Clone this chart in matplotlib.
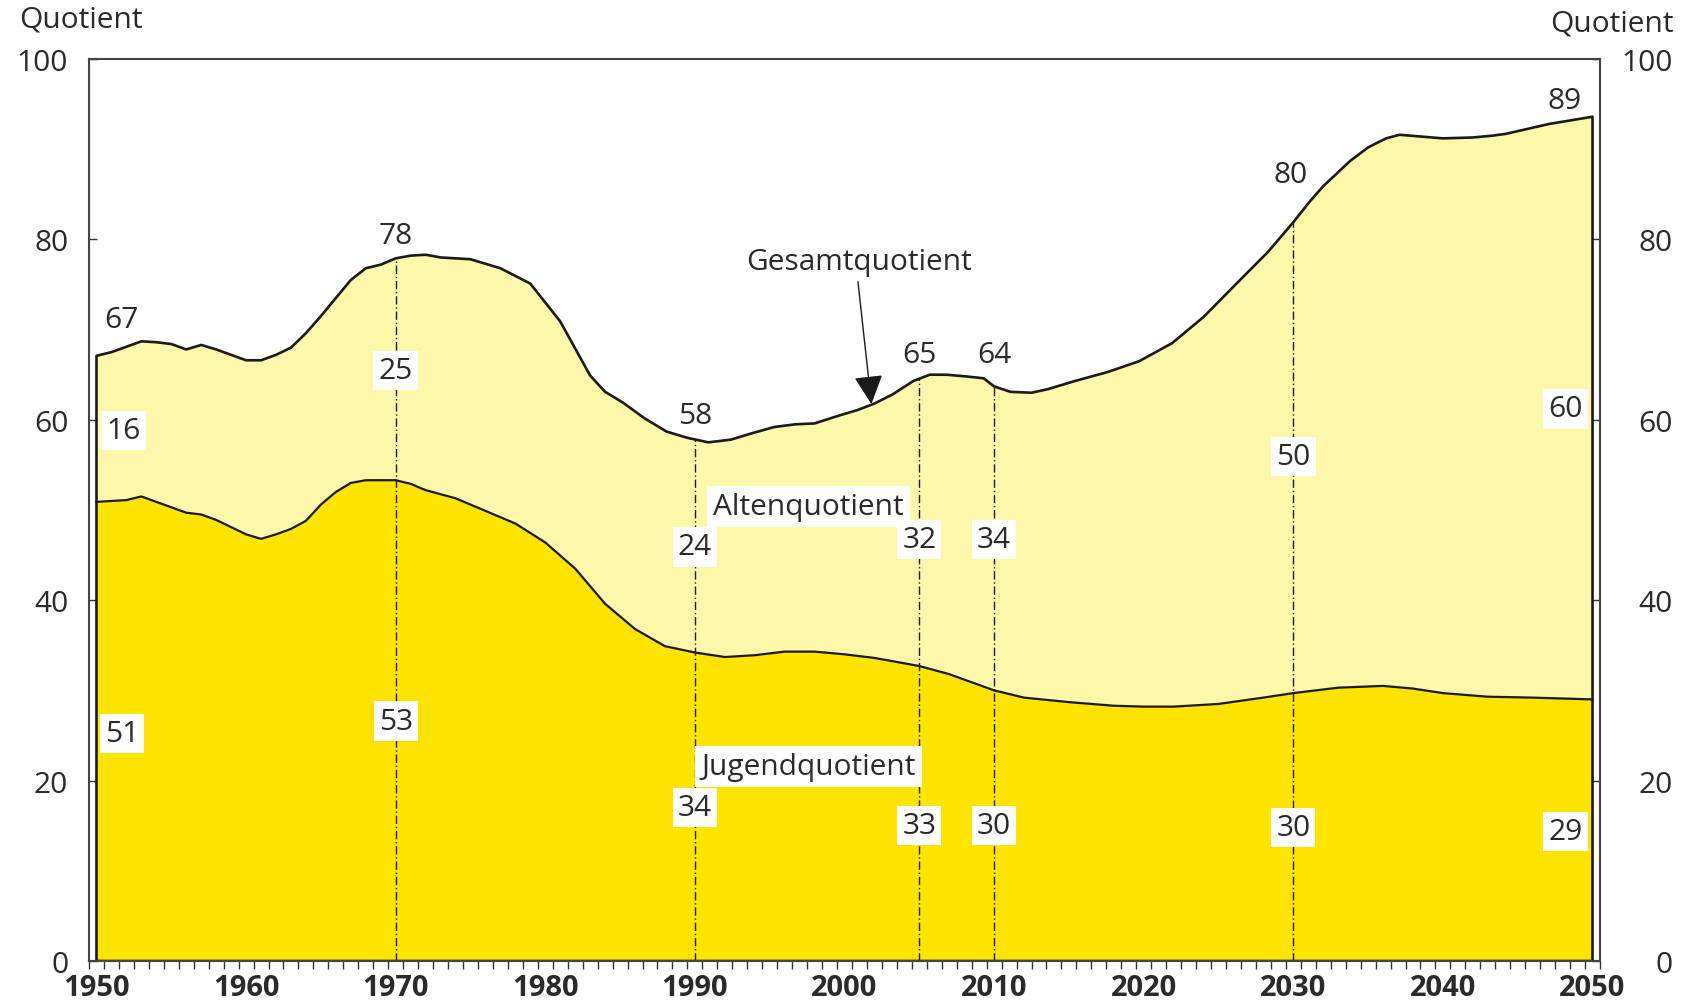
import numpy as np
import matplotlib
matplotlib.use("Agg")
import matplotlib.pyplot as plt
import matplotlib.transforms as mtrans

plt.rcParams['font.family'] = ['Open Sans', 'DejaVu Sans']

# ---- data ----
total_years = [1950, 1951, 1953, 1954, 1955, 1956, 1957, 1958, 1960, 1961, 1962, 1963,
               1964, 1965, 1966, 1967, 1968, 1969, 1970, 1971, 1972, 1973, 1975, 1977,
               1979, 1981, 1983, 1984, 1985.2, 1986.6, 1988.1, 1989.5, 1990.9, 1992.4,
               1993.8, 1995.3, 1996.7, 1998, 1999.5, 2000.9, 2002, 2003.2, 2004.6,
               2005.7, 2006.8, 2008.2, 2009.3, 2010, 2011.1, 2012.5, 2013.6, 2015.4,
               2017.6, 2019.7, 2021.9, 2024, 2026.2, 2028.3, 2030, 2031.1, 2032, 2033.8,
               2035, 2036.2, 2037.1, 2040, 2042, 2043.3, 2044.2, 2047.1, 2050]
total_values = [67.1, 67.5, 68.7, 68.6, 68.4, 67.8, 68.3, 67.8, 66.6, 66.6, 67.2, 68.0,
                69.6, 71.5, 73.5, 75.5, 76.8, 77.2, 77.9, 78.2, 78.3, 78.0, 77.8, 76.8,
                75.1, 70.9, 64.9, 63.1, 61.9, 60.2, 58.7, 58.0, 57.5, 57.8,
                58.5, 59.2, 59.5, 59.6, 60.4, 61.1, 61.8, 62.8, 64.3,
                65.0, 65.0, 64.8, 64.6, 63.7, 63.1, 63.0, 63.4, 64.3,
                65.3, 66.5, 68.5, 71.4, 75.1, 78.6, 81.9, 84.2, 85.9, 88.7,
                90.2, 91.2, 91.6, 91.2, 91.3, 91.5, 91.7, 92.8, 93.6]

youth_years = [1950, 1952, 1953, 1954, 1956, 1957, 1958, 1960, 1961, 1962, 1963, 1964,
               1965, 1966, 1967, 1968, 1970, 1971, 1972, 1974, 1976, 1978, 1980, 1982,
               1984, 1986, 1988, 1990, 1992, 1994, 1996, 1998, 2000, 2002, 2005, 2007,
               2010, 2012, 2015, 2018, 2020, 2022, 2025, 2028, 2030, 2033, 2036, 2038,
               2040, 2043, 2046, 2050]
youth_values = [50.9, 51.1, 51.5, 50.9, 49.7, 49.5, 48.9, 47.3, 46.8, 47.3, 47.9, 48.8,
                50.6, 52.0, 53.0, 53.3, 53.3, 52.9, 52.2, 51.3, 49.9, 48.5, 46.4, 43.5,
                39.6, 36.8, 34.9, 34.2, 33.7, 33.9, 34.3, 34.3, 34.0, 33.6, 32.7, 31.8,
                30.0, 29.2, 28.7, 28.3, 28.2, 28.2, 28.5, 29.2, 29.7, 30.3, 30.5, 30.2,
                29.7, 29.3, 29.2, 29.0]

marker_years = [1970, 1990, 2005, 2010, 2030]

# boxed labels: (text, year, value)
boxed_labels = [("16", 1951.8, 58.8), ("51", 1951.7, 25.2),
                ("25", 1970, 65.5), ("53", 1970, 26.6),
                ("24", 1990, 45.9), ("34", 1990, 17.0),
                ("32", 2005, 46.7), ("33", 2005, 15.0),
                ("34", 2010, 46.7), ("30", 2010, 15.0),
                ("50", 2030, 55.9), ("30", 2030, 14.8),
                ("60", 2048.2, 61.2), ("29", 2048.2, 14.4)]
# total labels above the curve
total_labels = [("67", 1951.7, 71.1), ("78", 1970, 80.4), ("58", 1990, 60.5),
                ("65", 2005, 67.2), ("64", 2010, 67.2), ("80", 2029.8, 87.2),
                ("89", 2048.1, 95.4)]

x_ticks = list(range(1950, 2051, 10))
y_ticks = [0, 20, 40, 60, 80, 100]

light_yellow = "#FFF7AA"
dark_yellow = "#FFE400"
text_color = "#2a2a2a"
line_color = "#1a1a1a"
fs = 21.5

fig = plt.figure(figsize=(16.86, 10.04), dpi=100)
ax = fig.add_axes([89 / 1686, 42 / 1004, (1600 - 89) / 1686, (962 - 60) / 1004])

ax.fill_between(total_years, 0, total_values, facecolor=light_yellow, edgecolor='none', zorder=1)
ax.fill_between(youth_years, 0, youth_values, facecolor=dark_yellow, edgecolor='none', zorder=2)
ax.plot(youth_years, youth_values, color=line_color, lw=1.6, zorder=3)
ax.fill_between(total_years, 0, total_values, facecolor='none', edgecolor=line_color, lw=1.9, zorder=4)

tops = np.interp(marker_years, total_years, total_values)
ax.vlines(marker_years, 0, tops, colors=line_color, linestyles=(0, (6, 2, 1, 2)), lw=1.0, zorder=3.5)

for txt, xv, yv in boxed_labels:
    ax.text(xv, yv, txt, ha='center', va='center', fontsize=fs, color=text_color, zorder=6,
            bbox=dict(boxstyle='square,pad=0.17', facecolor='white', edgecolor='none'))
for txt, xv, yv in total_labels:
    ax.text(xv, yv, txt, ha='center', va='center', fontsize=fs, color=text_color, zorder=6)

ax.text(1997.6, 50.4, "Altenquotient", ha='center', va='center', fontsize=fs, color=text_color,
        zorder=6, bbox=dict(boxstyle='square,pad=0.2', facecolor='white', edgecolor='none'))
ax.text(1997.6, 21.6, "Jugendquotient", ha='center', va='center', fontsize=fs, color=text_color,
        zorder=6, bbox=dict(boxstyle='square,pad=0.2', facecolor='white', edgecolor='none'))
ax.text(2001.0, 77.6, "Gesamtquotient", ha='center', va='center', fontsize=fs, color=text_color, zorder=6)
ax.annotate("", xy=(2001.8, 61.75), xytext=(2000.9, 75.3),
            arrowprops=dict(arrowstyle='-|>,head_length=0.9,head_width=0.45', color=line_color,
                            lw=1.0, shrinkA=0, shrinkB=0, mutation_scale=20), zorder=7)

ax.set_xlim(1949.5, 2050.5)
ax.set_ylim(0, 100)

for sp in ax.spines.values():
    sp.set_color('#444444')
    sp.set_linewidth(1.5)
    sp.set_zorder(8)

ax.set_xticks(x_ticks)
ax.set_xticklabels([str(v) for v in x_ticks])
ax.set_xticks(np.arange(1949.5, 2051, 1.0), minor=True)
ax.tick_params(axis='x', which='major', length=0, pad=9, labelsize=21, labelcolor=text_color)
ax.tick_params(axis='x', which='minor', direction='out', length=5.8, width=1.0, color='#333333')
for lbl in ax.get_xticklabels():
    lbl.set_fontweight('bold')

ax.set_yticks(y_ticks)
ax.set_yticklabels([str(v) for v in y_ticks])
ax.tick_params(axis='y', which='major', direction='in', length=5.8, width=1.0, color='#333333',
               pad=15, labelsize=21.5, labelcolor=text_color, right=True, labelright=True)
# right labels are right aligned, ending ~73 px right of the spine
offset = mtrans.ScaledTranslation(73 / 100 - 15 / 72, 0, fig.dpi_scale_trans)
for t in ax.yaxis.get_major_ticks():
    t.label2.set_ha('right')
    t.label2.set_transform(t.label2.get_transform() + offset)

fig.text(19 / 1686, 1 - 20 / 1004, "Quotient", ha='left', va='center', fontsize=fs, color=text_color)
fig.text(1674 / 1686, 1 - 24 / 1004, "Quotient", ha='right', va='center', fontsize=fs, color=text_color)

fig.savefig("out.png", dpi=100)
